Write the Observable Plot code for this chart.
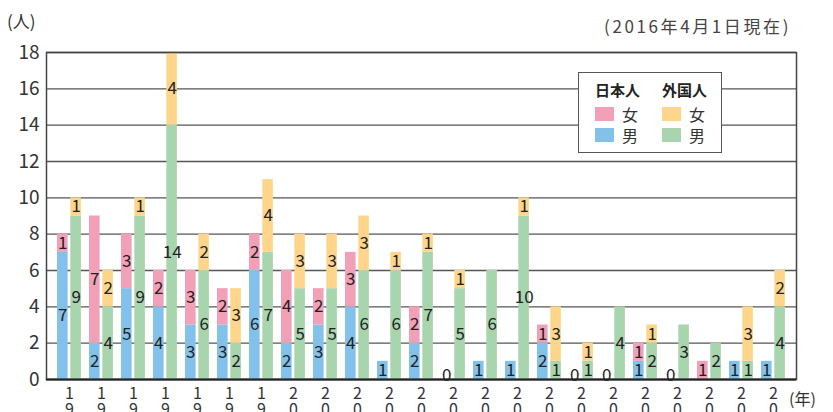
<!DOCTYPE html>
<html><head><meta charset="utf-8">
<script src="https://cdn.jsdelivr.net/npm/d3@7"></script>
<script src="https://cdn.jsdelivr.net/npm/@observablehq/plot@0.6"></script>
<style>
body{margin:0;background:#fff;}
#wrap{position:relative;width:833px;height:412px;overflow:hidden;font-family:"Noto Sans CJK JP","Noto Sans",sans-serif;color:#333;}
.ov{position:absolute;white-space:nowrap;}
#legend{position:absolute;left:578px;top:72px;width:142px;height:79px;border:1.5px solid #555;background:#fff;}
.lh{position:absolute;font-weight:bold;font-size:15px;color:#222;}
.sw{position:absolute;width:19px;height:14px;}
.lt{position:absolute;font-size:16px;color:#333;line-height:16px;}
</style></head>
<body>
<div id="wrap">
  <div id="chart"></div>
  <div class="ov" style="left:7px;top:8px;font-size:17px;">(人)</div>
  <div class="ov" style="right:42px;top:13px;font-size:17px;letter-spacing:2.6px;color:#444;">(2016年4月1日現在)</div>
  <div class="ov" style="left:789px;top:386px;font-size:16px;">(年)</div>
  <div id="legend"></div>
</div>
<script>
const years = ["1993","1994","1995","1996","1997","1998","1999","2000","2001","2002","2003","2004","2005","2006","2007","2008","2009","2010","2011","2012","2013","2014","2015"];
const jpMale   = [7,2,5,4,3,3,6,2,3,4,1,2,0,1,1,2,0,0,1,0,0,1,1];
const jpFemale = [1,7,3,2,3,2,2,4,2,3,0,2,0,0,0,1,0,0,1,0,1,0,0];
const frMale   = [9,4,9,14,6,2,7,5,5,6,6,7,5,6,9,1,1,4,2,3,2,1,4];
const frFemale = [1,2,1,4,2,3,4,3,3,3,1,1,1,0,1,3,1,0,1,0,0,3,2];
// label printed on the foreign-male segment (the 2007 bar is drawn at 9 but labelled 10 in the source)
const frMaleLabel = ["9","4","9","14","6","2","7","5","5","6","6","7","5","6","10","1","1","4","2","3","2","1","4"];
const yTicks = [0,2,4,6,8,10,12,14,16,18];
const groups = ["日本人","外国人"];
const sexes = ["女","男"];
const colors = {"日本人女":"#f2a0b7","日本人男":"#82c2ea","外国人女":"#fdd68b","外国人男":"#a8d5ae"};

const rows = [];
years.forEach((y,i)=>{
  rows.push({year:y, nat:"日本人", sex:"男", value:jpMale[i], label:String(jpMale[i])});
  rows.push({year:y, nat:"日本人", sex:"女", value:jpFemale[i], label:String(jpFemale[i])});
  rows.push({year:y, nat:"外国人", sex:"男", value:frMale[i], label:frMaleLabel[i]});
  rows.push({year:y, nat:"外国人", sex:"女", value:frFemale[i], label:String(frFemale[i])});
});
const jp = rows.filter(d=>d.nat==="日本人");
const fr = rows.filter(d=>d.nat==="外国人");
const jpZero = years.filter((y,i)=>jpMale[i]+jpFemale[i]===0);

const lblFont = "Noto Sans CJK JP";
const barOpts = (dx, insL, insR, data) => [
  Plot.barY(data, Plot.stackY({x:"year", y:"value", z:"sex", fill:d=>colors[d.nat+d.sex], insetLeft:insL, insetRight:insR})),
  Plot.text(data, Plot.stackY({x:"year", y:"value", z:"sex", text:d=>d.value>0?d.label:null, dx, fontSize:17, fill:"#222", fontFamily:lblFont}))
];

const chart = Plot.plot({
  width:833, height:412,
  marginLeft:46, marginRight:37, marginTop:52, marginBottom:33,
  x:{domain:years, range:[52,790], padding:0, axis:null},
  y:{domain:[0,18], axis:null},
  style:{fontFamily:lblFont, background:"#fff"},
  marks:[
    Plot.ruleY(yTicks, {stroke:"#555", strokeWidth:1.3}),
    ...barOpts(-6.7, 4, 17.4, jp),
    ...barOpts(6.65, 17.3, 4.1, fr),
    Plot.text(jpZero, {x:d=>d, y:0, text:()=>"0", dx:-6.7, lineAnchor:"bottom", dy:1, fontSize:17, fill:"#222"}),
    Plot.frame({stroke:"#444", strokeWidth:1.5}),
    Plot.ruleY([0], {stroke:"#222", strokeWidth:2}),
    Plot.text(yTicks, {y:d=>d, text:d=>String(d), frameAnchor:"left", textAnchor:"end", dx:-7, fontSize:19, fill:"#333"}),
    // vertical year labels; only the first two characters fit inside the picture (as in the source)
    Plot.text(years, {x:d=>d, text:d=>d.slice(0,2).split("").join("\n"), frameAnchor:"bottom", lineAnchor:"top", dy:8, fontSize:16, lineHeight:1, fill:"#333"})
  ]
});
document.getElementById("chart").appendChild(chart);

const lg = document.getElementById("legend");
const left = [16, 83];
groups.forEach((g,gi)=>{
  const h = document.createElement("div"); h.className="lh"; h.textContent=g;
  h.style.left=left[gi]+"px"; h.style.top="6px"; lg.appendChild(h);
  sexes.forEach((s,si)=>{
    const sw=document.createElement("div"); sw.className="sw";
    sw.style.background=colors[g+s]; sw.style.left=left[gi]+"px"; sw.style.top=(34+si*21)+"px"; lg.appendChild(sw);
    const t=document.createElement("div"); t.className="lt"; t.textContent=s;
    t.style.left=(left[gi]+27)+"px"; t.style.top=(33+si*21)+"px"; lg.appendChild(t);
  });
});
</script>
</body></html>
